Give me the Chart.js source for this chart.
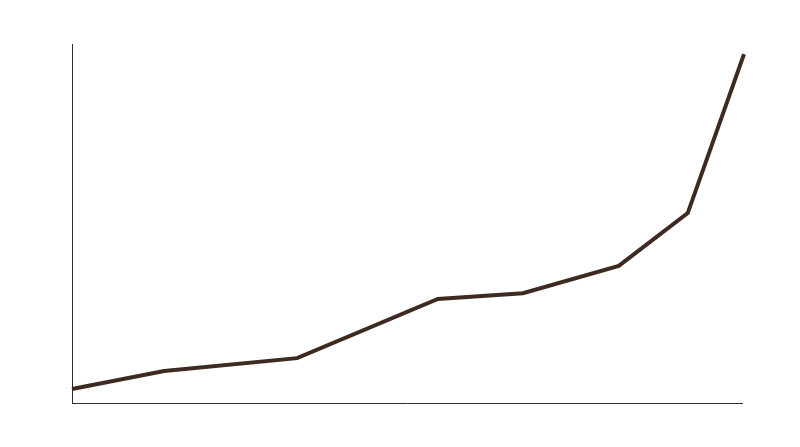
<!DOCTYPE html>
<html>
<head>
<meta charset="utf-8">
<script src="https://cdn.jsdelivr.net/npm/chart.js@4"></script>
<style>
  html, body { margin: 0; padding: 0; background: #fff; }
  #wrap { width: 800px; height: 447px; }
</style>
</head>
<body>
<div id="wrap"><canvas id="stage"></canvas></div>
<script>
// positions along the x axis (0-100) and the values
const xs = [0, 13.75, 33.6, 54.6, 67.3, 81.6, 91.9, 100.3];
const ys = [3.9, 8.9, 12.5, 29.0, 30.6, 38.2, 52.9, 97.2];
const lineColor = '#3d2a20';

const points = [];
for (let i = 0; i < xs.length; ++i) {
    points.push({ x: xs[i], y: ys[i] });
}

const canvas = document.getElementById('stage');
new Chart(canvas, {
    type: 'line',
    data: {
        datasets: [{
            data: points,
            borderColor: lineColor,
            borderWidth: 4,
            pointRadius: 0,
            tension: 0,
            clip: false
        }]
    },
    options: {
        responsive: true,
        maintainAspectRatio: false,
        animation: false,
        layout: { padding: { left: 64, top: 44, right: 58, bottom: 36 } },
        plugins: { legend: { display: false }, tooltip: { enabled: false } },
        scales: {
            x: {
                type: 'linear',
                min: 0,
                max: 100,
                grid: { display: false },
                ticks: { display: false },
                border: { color: lineColor, width: 1 }
            },
            y: {
                min: 0,
                max: 100,
                grid: { display: false },
                ticks: { display: false },
                border: { color: lineColor, width: 1 }
            }
        }
    }
});
</script>
</body>
</html>
